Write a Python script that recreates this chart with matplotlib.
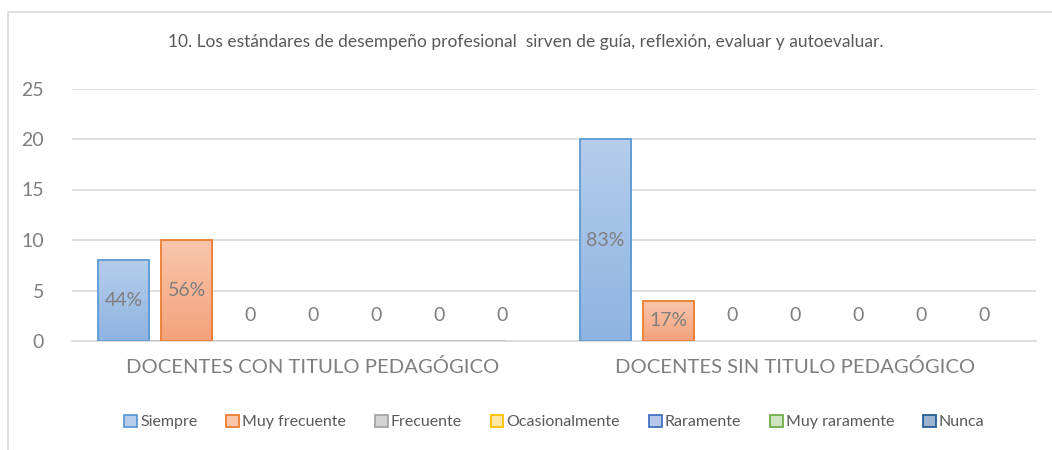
import matplotlib.pyplot as plt
import numpy as np
from matplotlib.patches import Rectangle
from matplotlib.colors import LinearSegmentedColormap

# data
groups = ["DOCENTES CON TITULO PEDAGÓGICO", "DOCENTES SIN TITULO PEDAGÓGICO"]
series = ["Siempre", "Muy frecuente", "Frecuente", "Ocasionalmente",
          "Raramente", "Muy raramente", "Nunca"]
siempre = [8, 20]
muy_frecuente = [10, 4]
frecuente = [0, 0]
ocasionalmente = [0, 0]
raramente = [0, 0]
muy_raramente = [0, 0]
nunca = [0, 0]
values = [siempre, muy_frecuente, frecuente, ocasionalmente,
          raramente, muy_raramente, nunca]
labels = [
    ["44%", "83%"],
    ["56%", "17%"],
    ["0", "0"],
    ["0", "0"],
    ["0", "0"],
    ["0", "0"],
    ["0", "0"],
]
title = "10. Los estándares de desempeño profesional  sirven de guía, reflexión, evaluar y autoevaluar."

# style: (top colour, bottom colour, edge colour)
styles = [
    ("#B5CDEB", "#8FB3E1", "#5B9BD5"),
    ("#F9C6AB", "#F4A27C", "#ED7D31"),
    ("#D4D4D4", "#BDBDBD", "#A5A5A5"),
    ("#FFE8A3", "#FFD966", "#FFC000"),
    ("#B6C7EA", "#8EA9DB", "#4472C4"),
    ("#CFE5C2", "#A9D18E", "#70AD47"),
    ("#9DB4D1", "#7A98BE", "#255E91"),
]

plt.rcParams["font.family"] = ["Lato", "DejaVu Sans"]
TXT = "#7F7F7F"
GRID = "#D9D9D9"

fig = plt.figure(figsize=(10.52, 4.5), dpi=100)
fig.patches.append(Rectangle((8 / 1052, -0.05), 1.2, 1 - 12 / 450 + 0.05,
                             transform=fig.transFigure, fill=False,
                             edgecolor=GRID, linewidth=1.2))
ax = fig.add_axes([72 / 1052, 1 - 341 / 450, 964 / 1052, (341 - 88.5) / 450])

x = np.arange(len(groups))
step = 0.131
width = 0.106
for i, name in enumerate(series):
    top, bottom, edge = styles[i]
    cmap = LinearSegmentedColormap.from_list(f"g{i}", [top, bottom])
    for g in range(len(groups)):
        v = values[i][g]
        xc = x[g] + (i - 3) * step
        if v > 0:
            bar = Rectangle((xc - width / 2, 0), width, v, facecolor="none",
                            edgecolor=edge, linewidth=1.3, zorder=3)
            ax.add_patch(bar)
            grad = np.linspace(0, 1, 64).reshape(-1, 1)
            im = ax.imshow(grad, cmap=cmap, aspect="auto", origin="upper",
                           extent=[xc - width / 2, xc + width / 2, 0, v], zorder=2)
            im.set_clip_path(bar)
        ypos = v / 2 if v > 0 else 2.5
        ax.text(xc, ypos, labels[i][g], ha="center", va="center",
                fontsize=14, color=TXT, zorder=4)
    ax.bar([0], [0], color=top, edgecolor=edge, linewidth=1.3, label=name)

ax.set_xlim(-0.5, 1.5)
ax.set_ylim(0, 25)
ax.set_yticks(np.arange(0, 26, 5))
ax.set_xticks(x)
ax.set_xticklabels(groups)
ax.tick_params(axis="y", length=0, pad=20, labelsize=14, labelcolor=TXT)
ax.tick_params(axis="x", length=0, pad=12, labelsize=14.6, labelcolor=TXT)
ax.grid(axis="y", color=GRID, linewidth=1.2)
ax.set_axisbelow(True)
for s in ["top", "right", "left"]:
    ax.spines[s].set_visible(False)
ax.spines["bottom"].set_color(GRID)
ax.spines["bottom"].set_linewidth(1.2)

fig.text(0.5, 1 - 42 / 450, title, ha="center", va="center", fontsize=12.5, color="#595959")

fig.legend(loc="center", bbox_to_anchor=(0.527, 1 - 422 / 450), ncol=7,
           frameon=False, fontsize=11.5, handlelength=0.8, handleheight=0.8,
           handletextpad=0.2, columnspacing=1.8, labelcolor="#595959")

fig.savefig("out.png", dpi=100)
